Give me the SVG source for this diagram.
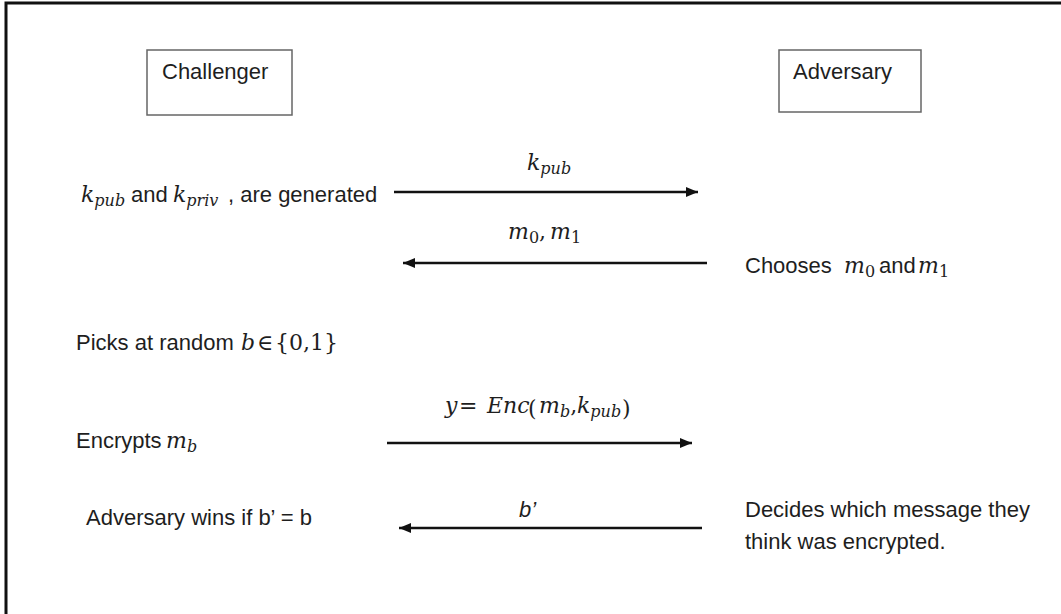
<svg xmlns="http://www.w3.org/2000/svg" width="1061" height="614" viewBox="0 0 1061 614">
  <style>
    .frame { fill: none; stroke: #111; stroke-width: 3; }
    .box { fill: #fff; stroke: #666; stroke-width: 1.5; }
    .t { font-family: "Liberation Sans", Arial, sans-serif; font-style: normal; font-size: 22px; fill: #1e1e1e; }
    .m { font-family: "DejaVu Serif", "Liberation Serif", serif; font-style: italic; font-size: 22px; fill: #1e1e1e; }
    .mu { font-family: "DejaVu Serif", "Liberation Serif", serif; font-style: normal; font-size: 22px; fill: #1e1e1e; }
    .s { font-size: 16px; }
    .bi { font-family: "Liberation Sans", Arial, sans-serif; font-style: italic; font-size: 22px; fill: #1e1e1e; }
    .conn { stroke: #111; stroke-width: 2.5; fill: none; }
  </style>
  <defs>
    <marker id="ah" markerUnits="userSpaceOnUse" markerWidth="14" markerHeight="12" refX="12" refY="6" orient="auto">
      <path d="M0,1 L12,6 L0,11 Z" fill="#111"/>
    </marker>
  </defs>
  <rect width="1061" height="614" fill="#fff"/>
  <path class="frame" d="M6,614 V3 H1061"/>

  <g id="challenger">
    <rect class="box" x="147" y="50" width="145" height="65"/>
    <text class="t" x="162" y="79">Challenger</text>
  </g>
  <g id="adversary">
    <rect class="box" x="779" y="50" width="142" height="62"/>
    <text class="t" x="793" y="79">Adversary</text>
  </g>

  <g id="connectors">
    <line class="conn" x1="394" y1="192" x2="698" y2="192" marker-end="url(#ah)"/>
    <line class="conn" x1="707" y1="263" x2="403" y2="263" marker-end="url(#ah)"/>
    <line class="conn" x1="387" y1="443" x2="692" y2="443" marker-end="url(#ah)"/>
    <line class="conn" x1="702" y1="528" x2="399" y2="528" marker-end="url(#ah)"/>
  </g>

  <g id="label-kpub">
    <text class="m" x="527" y="170">k<tspan class="s" dy="4">pub</tspan></text>
  </g>
  <g id="label-m0m1">
    <text class="m" x="508" y="239">m<tspan class="mu s" dy="4">0</tspan><tspan class="mu" dy="-4">,</tspan><tspan x="550">m</tspan><tspan class="mu s" dy="4">1</tspan></text>
  </g>
  <g id="label-enc">
    <text class="m" x="445" y="413">y<tspan class="mu" x="459">=</tspan><tspan x="487">Enc</tspan><tspan class="mu" x="528" font-size="31" dy="3">(</tspan><tspan x="539" dy="-3">m</tspan><tspan class="s" dy="4">b</tspan><tspan class="mu" dy="-4">,</tspan><tspan x="577">k</tspan><tspan class="s" dy="4">pub</tspan><tspan class="mu" x="622" font-size="31" dy="-1">)</tspan></text>
  </g>
  <g id="label-bprime">
    <text class="bi" x="519" y="517">b’</text>
  </g>

  <g id="step-keygen">
    <text class="m" x="81" y="202">k<tspan class="s" dy="4">pub</tspan><tspan class="t" x="131" dy="-4">and</tspan><tspan x="173">k</tspan><tspan class="s" dy="4">priv</tspan><tspan class="t" x="228" dy="-4">, are generated</tspan></text>
  </g>
  <g id="step-choose">
    <text class="t" x="745" y="273">Chooses<tspan class="m" x="844">m</tspan><tspan class="mu s" dy="4">0</tspan><tspan x="879" dy="-4">and</tspan><tspan class="m" x="918">m</tspan><tspan class="mu s" dy="4">1</tspan></text>
  </g>
  <g id="step-pick">
    <text class="t" x="76" y="350">Picks at random<tspan class="m" x="241">b</tspan><tspan class="mu" x="257">∈</tspan><tspan class="mu" x="275">{0,1}</tspan></text>
  </g>
  <g id="step-encrypt">
    <text class="t" x="76" y="448">Encrypts<tspan class="m" x="166">m</tspan><tspan class="m s" dy="4">b</tspan></text>
  </g>
  <g id="step-win">
    <text class="t" x="86" y="525">Adversary wins if b’ = b</text>
  </g>
  <g id="step-decide">
    <text class="t" x="745" y="517">Decides which message they</text>
    <text class="t" x="745" y="549">think was encrypted.</text>
  </g>
</svg>
